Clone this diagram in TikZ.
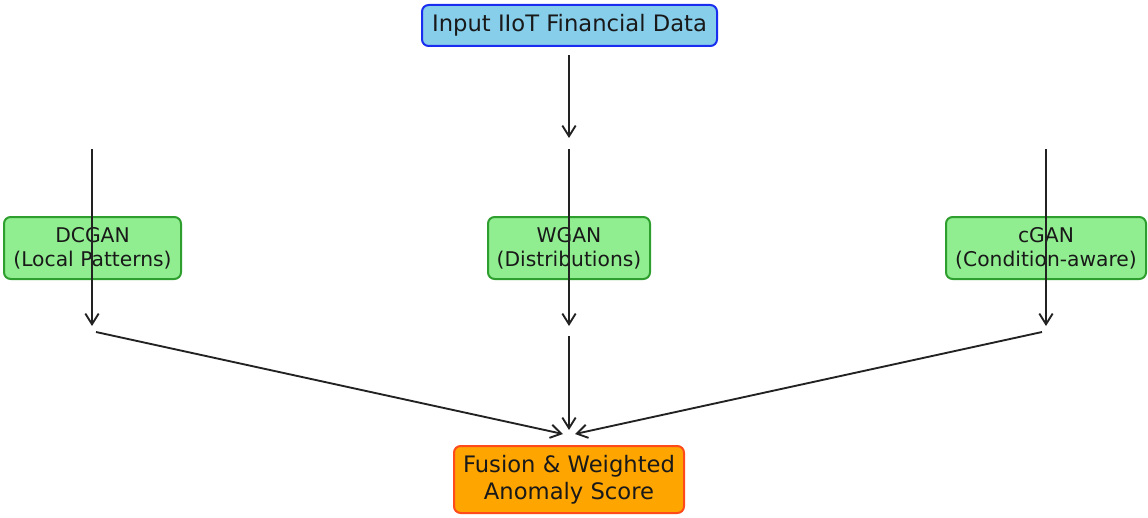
\documentclass[tikz,border=0pt]{standalone}
\usepackage{fontspec}
\setmainfont{DejaVu Sans}
\usetikzlibrary{arrows.meta}
\definecolor{skyb}{HTML}{87CEEB}
\definecolor{blueedge}{HTML}{1A2EF0}
\definecolor{lgreen}{HTML}{90EE90}
\definecolor{gedge}{HTML}{2E9E2E}
\definecolor{orfill}{HTML}{FFA500}
\definecolor{oredge}{HTML}{FF4A1A}
\definecolor{arr}{HTML}{222222}
\tikzset{
  boxbase/.style={rounded corners=5pt, line width=1.5pt, align=center, inner sep=0pt, text=black!90},
  inbox/.style={boxbase, fill=skyb, draw=blueedge, minimum width=221.25pt, minimum height=30.75pt, font=\fontsize{17}{20}\selectfont},
  ganbox/.style={boxbase, fill=lgreen, draw=gedge, minimum height=46.5pt, font=\fontsize{15.2}{18}\selectfont},
  fusebox/.style={boxbase, fill=orfill, draw=oredge, minimum width=172.5pt, minimum height=50.25pt, font=\fontsize{17}{20}\selectfont},
  conn/.style={draw=arr, line width=1.4pt, -{Straight Barb[length=8pt,width=10pt,line width=1.4pt]}}
}
\begin{document}
\begin{tikzpicture}[x=0.75pt,y=-0.75pt]
\useasboundingbox (0,0) rectangle (1148,517);
\node[inbox] (in) at (569.5,25.5) {Input IIoT Financial Data};
\node[ganbox, minimum width=132.75pt] (dc) at (92.5,248) {DCGAN\\(Local Patterns)};
\node[ganbox, minimum width=121.5pt] (wg) at (569,248) {WGAN\\(Distributions)};
\node[ganbox, minimum width=150pt] (cg) at (1046,248) {cGAN\\(Condition-aware)};
\node[fusebox] (fu) at (569,479.5) {Fusion \& Weighted\\Anomaly Score};
% free ends
\coordinate (inA) at (569,55);
\coordinate (inB) at (569,138);
\coordinate (dcA) at (92,149);
\coordinate (dcB) at (92,326);
\coordinate (wgA) at (569,149);
\coordinate (wgB) at (569,326);
\coordinate (cgA) at (1046,149);
\coordinate (cgB) at (1046,326);
\coordinate (dcC) at (96,332);
\coordinate (wgC) at (569,336);
\coordinate (cgC) at (1042,332);
\coordinate (fuL) at (563,434);
\coordinate (fuM) at (569,430);
\coordinate (fuR) at (575,434);
\draw[conn] (inA) -- (inB);
\draw[conn] (dcA) -- (dcB);
\draw[conn] (wgA) -- (wgB);
\draw[conn] (cgA) -- (cgB);
\draw[conn] (dcC) -- (fuL);
\draw[conn] (wgC) -- (fuM);
\draw[conn] (cgC) -- (fuR);
\end{tikzpicture}
\end{document}
